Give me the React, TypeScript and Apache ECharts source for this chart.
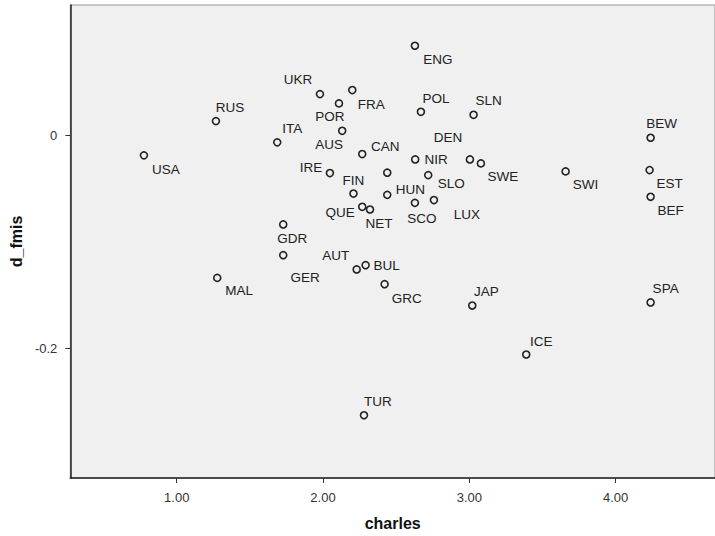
import React, { useEffect, useRef } from "react";
import * as echarts from "echarts";

const countries = [
  "USA", "RUS", "UKR", "FRA", "POR", "ITA", "AUS", "CAN", "", "IRE",
  "FIN", "QUE", "NET", "HUN", "NIR", "SLO", "SCO", "LUX", "DEN", "SWE",
  "ENG", "POL", "SLN", "BEW", "SWI", "EST", "BEF", "GDR", "GER", "MAL",
  "AUT", "BUL", "GRC", "JAP", "SPA", "ICE", "TUR",
];
const charles = [
  0.776, 1.268, 1.979, 2.200, 2.109, 1.687, 2.131, 2.268, 2.439, 2.047,
  2.208, 2.268, 2.321, 2.439, 2.630, 2.719, 2.628, 2.758, 3.004, 3.079,
  2.628, 2.669, 3.029, 4.239, 3.658, 4.232, 4.239, 1.728, 1.728, 1.277,
  2.230, 2.291, 2.421, 3.020, 4.239, 3.389, 2.280,
];
const dFmis = [
  -0.0190, 0.0131, 0.0384, 0.0422, 0.0297, -0.0068, 0.0040, -0.0178, -0.0352, -0.0356,
  -0.0548, -0.0672, -0.0697, -0.0560, -0.0228, -0.0375, -0.0635, -0.0609, -0.0228, -0.0265,
  0.0837, 0.0218, 0.0190, -0.0025, -0.0340, -0.0328, -0.0578, -0.0837, -0.1125, -0.1338,
  -0.1259, -0.1219, -0.1397, -0.1597, -0.1568, -0.2056, -0.2625,
];
const xTicks = [1, 2, 3, 4];
const yTicks = [-0.2, 0];

// label placement (style only), dx/dy in px from point centre
const labelOffsets: Record<string, [number, number]> = {
  USA: [22, 14], RUS: [14, -14], UKR: [-22, -15], FRA: [19, 14], POR: [-9, 13],
  ITA: [15, -14], AUS: [-13, 14], CAN: [23, -8], IRE: [-19, -6], FIN: [0, -13],
  QUE: [-22, 6], NET: [9, 14], HUN: [23, -5], NIR: [21, 0], SLO: [23, 8],
  SCO: [7, 16], LUX: [33, 14], DEN: [-22, -22], SWE: [22, 13], ENG: [23, 14],
  POL: [15, -13], SLN: [15, -14], BEW: [11, -14], SWI: [20, 13], EST: [20, 13],
  BEF: [20, 14], GDR: [9, 14], GER: [22, 22], MAL: [22, 13], AUT: [-21, -14],
  BUL: [21, 0], GRC: [22, 14], JAP: [14, -14], SPA: [15, -14], ICE: [15, -13],
  TUR: [14, -14],
};

const FONT = "'Liberation Sans', Arial, sans-serif";

export default function App() {
  const ref = useRef<HTMLDivElement>(null);
  useEffect(() => {
    if (!ref.current) return;
    const chart = echarts.init(ref.current, undefined, { renderer: "svg" });
    const data = countries.map((name, i) => ({
      value: [charles[i], dFmis[i]],
      name,
      label: { show: name !== "" },
    }));
    chart.setOption({
      animation: false,
      backgroundColor: "#ffffff",
      grid: {
        left: 70,
        top: 5,
        right: 0,
        bottom: 58,
        show: true,
        backgroundColor: "#f0f0f0",
        borderColor: "#999999",
        borderWidth: 1,
      },
      xAxis: {
        type: "value",
        min: 0.2727,
        max: 4.679,
        name: "charles",
        nameLocation: "middle",
        nameGap: 37,
        nameTextStyle: { fontFamily: FONT, fontSize: 16, fontWeight: "bold", color: "#111" },
        axisLine: { show: true, onZero: false, lineStyle: { color: "#222", width: 1.5 } },
        axisTick: { show: true, customValues: xTicks, length: 5, lineStyle: { color: "#333", width: 1 } },
        axisLabel: {
          customValues: xTicks,
          formatter: (v: number) => v.toFixed(2),
          margin: 13,
          fontFamily: FONT,
          fontSize: 13,
          color: "#333",
        },
        splitLine: { show: false },
      },
      yAxis: {
        type: "value",
        min: -0.3213,
        max: 0.1219,
        name: "d_fmis",
        nameLocation: "middle",
        nameGap: 45,
        nameTextStyle: { fontFamily: FONT, fontSize: 16, fontWeight: "bold", color: "#111" },
        axisLine: { show: true, onZero: false, lineStyle: { color: "#222", width: 1.5 } },
        axisTick: { show: true, customValues: yTicks, length: 5, lineStyle: { color: "#333", width: 1 } },
        axisLabel: {
          customValues: yTicks,
          formatter: (v: number) => (Math.abs(v) < 1e-9 ? "0" : String(v)),
          margin: 13,
          fontFamily: FONT,
          fontSize: 13,
          color: "#333",
        },
        splitLine: { show: false },
      },
      series: [
        {
          type: "scatter",
          symbol: "circle",
          symbolSize: 7,
          itemStyle: { color: "rgba(0,0,0,0)", borderColor: "#222", borderWidth: 1.6, opacity: 1 },
          label: {
            show: true,
            position: "inside",
            formatter: (p: any) => p.name,
            fontFamily: FONT,
            fontSize: 13.5,
            color: "#222",
          },
          labelLayout: (params: any) => {
            const name = countries[params.dataIndex];
            const off = labelOffsets[name] || [0, 0];
            return { dx: off[0], dy: off[1], hideOverlap: false };
          },
          emphasis: { disabled: true },
          data,
        },
      ],
    });
    return () => chart.dispose();
  }, []);
  return (
    <div
      ref={ref}
      style={{ position: "absolute", left: 0, top: 0, width: 715, height: 536, background: "#fff" }}
    />
  );
}
